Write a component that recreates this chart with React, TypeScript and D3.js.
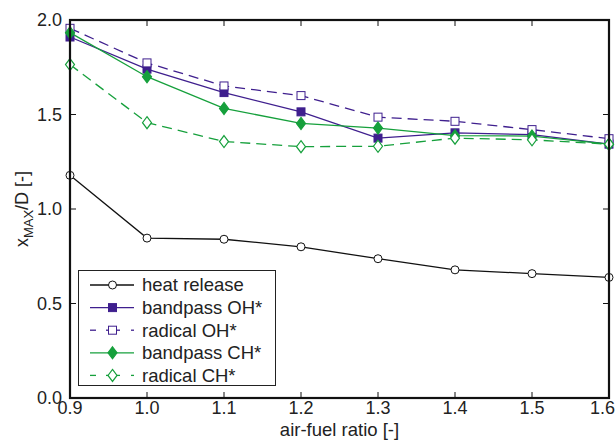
import { useEffect, useRef } from "react";
import * as d3 from "d3";

const ratios = [0.9, 1.0, 1.1, 1.2, 1.3, 1.4, 1.5, 1.6];
const heatRelease = [1.178, 0.846, 0.84, 0.8, 0.737, 0.678, 0.658, 0.638];
const bandpassOH = [1.91, 1.74, 1.616, 1.514, 1.375, 1.403, 1.393, 1.343];
const radicalOH = [1.956, 1.773, 1.651, 1.6, 1.486, 1.464, 1.42, 1.372];
const bandpassCH = [1.933, 1.7, 1.532, 1.453, 1.428, 1.388, 1.386, 1.343];
const radicalCH = [1.764, 1.457, 1.357, 1.33, 1.332, 1.375, 1.366, 1.343];
const xTicks = [0.9, 1.0, 1.1, 1.2, 1.3, 1.4, 1.5, 1.6];
const yTicks = [0.0, 0.5, 1.0, 1.5, 2.0];

const PURPLE = "#3f1f8e";
const GREEN = "#16a03c";

const series = [
  { name: "heat release", values: heatRelease, color: "#111", dash: null, marker: "circle", filled: false },
  { name: "bandpass OH*", values: bandpassOH, color: PURPLE, dash: null, marker: "square", filled: true },
  { name: "radical OH*", values: radicalOH, color: PURPLE, dash: "10,6", marker: "square", filled: false },
  { name: "bandpass CH*", values: bandpassCH, color: GREEN, dash: null, marker: "diamond", filled: true },
  { name: "radical CH*", values: radicalCH, color: GREEN, dash: "10,6", marker: "diamond", filled: false },
];

export default function App() {
  const ref = useRef<SVGSVGElement>(null);

  useEffect(() => {
    const width = 616;
    const height = 442;
    const m = { left: 70, right: 7, top: 20, bottom: 44 };
    const svg = d3.select(ref.current);
    svg.selectAll("*").remove();
    svg.style("font-family", "'Liberation Sans', Arial, sans-serif");

    const x = d3.scaleLinear().domain([0.9, 1.6]).range([m.left, width - m.right]);
    const y = d3.scaleLinear().domain([0, 2]).range([height - m.bottom, m.top]);
    const tickLen = 6;

    // ticks, inward on all four sides
    const ticks = svg.append("g").attr("stroke", "#111").attr("stroke-width", 1);
    xTicks.forEach((t) => {
      ticks.append("line").attr("x1", x(t)).attr("x2", x(t)).attr("y1", y(0)).attr("y2", y(0) - tickLen);
      ticks.append("line").attr("x1", x(t)).attr("x2", x(t)).attr("y1", y(2)).attr("y2", y(2) + tickLen);
    });
    yTicks.forEach((t) => {
      ticks.append("line").attr("x1", x(0.9)).attr("x2", x(0.9) + tickLen).attr("y1", y(t)).attr("y2", y(t));
      ticks.append("line").attr("x1", x(1.6)).attr("x2", x(1.6) - tickLen).attr("y1", y(t)).attr("y2", y(t));
    });

    // last label squeezed against the right edge, as in the original
    const last = xTicks.length - 1;
    svg
      .append("g")
      .selectAll("text")
      .data(xTicks)
      .join("text")
      .attr("x", (d, i) => (i === last ? width - 1 : x(d)))
      .attr("y", y(0) + 16)
      .attr("text-anchor", (d, i) => (i === last ? "end" : "middle"))
      .attr("font-size", 18)
      .attr("fill", "#222")
      .text((d) => d.toFixed(1));

    svg
      .append("g")
      .selectAll("text")
      .data(yTicks)
      .join("text")
      .attr("x", x(0.9) - 8)
      .attr("y", (d) => y(d))
      .attr("dy", "0.35em")
      .attr("text-anchor", "end")
      .attr("font-size", 18)
      .attr("fill", "#222")
      .text((d) => d.toFixed(1));

    svg
      .append("text")
      .attr("x", (x(0.9) + x(1.6)) / 2)
      .attr("y", height - 6)
      .attr("text-anchor", "middle")
      .attr("font-size", 18.5)
      .attr("fill", "#222")
      .text("air-fuel ratio [-]");

    const yl = svg
      .append("text")
      .attr("transform", `translate(28,${y(1)}) rotate(-90)`)
      .attr("text-anchor", "middle")
      .attr("font-size", 18)
      .attr("fill", "#222");
    yl.append("tspan").text("x");
    yl.append("tspan").attr("font-size", 13).attr("dy", 5).text("MAX");
    yl.append("tspan").attr("dy", -5).text("/D [-]");

    const drawMarker = (g: any, kind: string, cx: number, cy: number, color: string, filled: boolean) => {
      const fill = filled ? color : "white";
      if (kind === "circle") {
        g.append("circle").attr("cx", cx).attr("cy", cy).attr("r", 4).attr("fill", fill).attr("stroke", color).attr("stroke-width", 1);
      } else if (kind === "square") {
        g.append("rect").attr("x", cx - 4).attr("y", cy - 4).attr("width", 8).attr("height", 8).attr("fill", fill).attr("stroke", color).attr("stroke-width", 1);
      } else {
        g.append("path")
          .attr("d", `M${cx},${cy - 6}L${cx + 4.5},${cy}L${cx},${cy + 6}L${cx - 4.5},${cy}Z`)
          .attr("fill", fill)
          .attr("stroke", color)
          .attr("stroke-width", 1.2);
      }
    };

    const line = d3
      .line<number>()
      .x((_, i) => x(ratios[i]))
      .y((d) => y(d));

    series.forEach((s) => {
      const g = svg.append("g");
      g.append("path")
        .attr("d", line(s.values))
        .attr("fill", "none")
        .attr("stroke", s.color)
        .attr("stroke-width", 1.3)
        .attr("stroke-dasharray", s.dash);
      s.values.forEach((v, i) => drawMarker(g, s.marker, x(ratios[i]), y(v), s.color, s.filled));
    });

    // frame
    svg
      .append("rect")
      .attr("x", x(0.9))
      .attr("y", y(2))
      .attr("width", x(1.6) - x(0.9))
      .attr("height", y(0) - y(2))
      .attr("fill", "none")
      .attr("stroke", "#111")
      .attr("stroke-width", 2.2);

    // legend
    const lg = svg.append("g");
    lg.append("rect")
      .attr("x", 78.5)
      .attr("y", 270.5)
      .attr("width", 197)
      .attr("height", 115)
      .attr("fill", "white")
      .attr("stroke", "#222")
      .attr("stroke-width", 1);
    series.forEach((s, i) => {
      const ly = 285 + i * 22.6;
      const seg = (a: number, b: number) =>
        lg.append("line").attr("x1", a).attr("x2", b).attr("y1", ly).attr("y2", ly).attr("stroke", s.color).attr("stroke-width", 1.3);
      if (s.dash) {
        seg(90, 96);
        seg(106, 120);
        seg(131, 134);
      } else {
        seg(90, 134);
      }
      drawMarker(lg, s.marker, 112.5, ly, s.color, s.filled);
      lg.append("text")
        .attr("x", 142)
        .attr("y", ly)
        .attr("dy", "0.35em")
        .attr("font-size", 18.5)
        .attr("fill", "#222")
        .text(s.name);
    });
  }, []);

  return <svg ref={ref} width={616} height={442} style={{ position: "absolute", left: 0, top: 0 }} />;
}
